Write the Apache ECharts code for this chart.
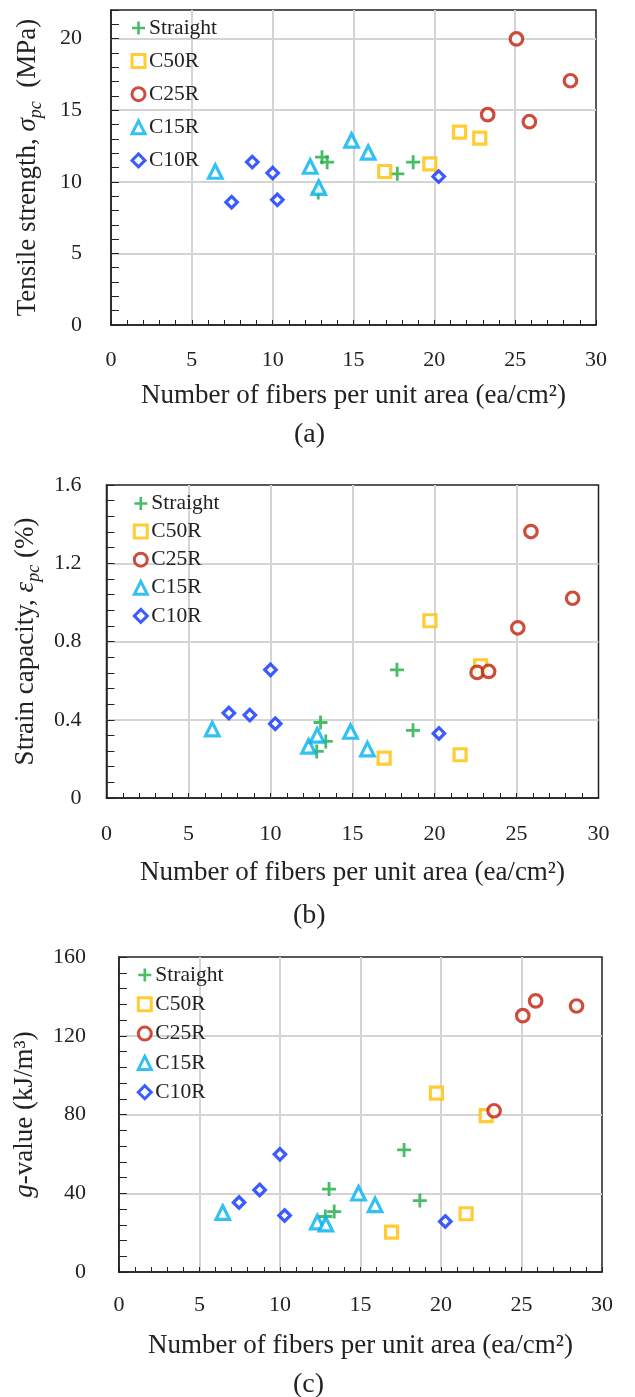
<!DOCTYPE html>
<html>
<head>
<meta charset="utf-8">
<script src="https://cdn.jsdelivr.net/npm/echarts@6/dist/echarts.min.js"></script>
<style>
  html, body { margin: 0; padding: 0; background: #fff; }
  #chart { width: 635px; height: 1397px; }
</style>
</head>
<body>
<div id="chart"></div>
<script>
// number of fibers per unit area (ea/cm2), same specimens in all three panels
const xStraight = [13.05, 13.37, 12.82, 17.71, 18.69]
const xC50R = [16.93, 19.72, 21.56, 22.81]
const xC25R = [22.6, 23.3, 25.08, 25.88, 28.42]
const xC15R = [6.45, 12.32, 12.85, 14.88, 15.91]
const xC10R = [7.46, 8.74, 10.0, 10.29, 20.27]

// (a) tensile strength (MPa)
const tsStraight = [11.72, 11.37, 9.25, 10.56, 11.37]
const tsC50R = [10.72, 11.26, 13.47, 13.05]
const tsC25R = [null, 14.69, 19.98, 14.2, 17.06]
const tsC15R = [10.72, 11.07, 9.6, 12.89, 12.05]
const tsC10R = [8.58, 11.38, 10.61, 8.74, 10.37]

// (b) strain capacity (%)
const scStraight = [0.386, 0.289, 0.238, 0.655, 0.346]
const scC50R = [0.204, 0.906, 0.221, 0.676]
const scC25R = [0.642, 0.647, 0.870, 1.362, 1.021]
const scC15R = [0.352, 0.264, 0.32, 0.34, 0.25]
const scC10R = [0.434, 0.424, 0.655, 0.38, 0.33]

// (c) g-value (kJ/m3)
const gvStraight = [42.1, 30.7, 28.2, 62.0, 36.3]
const gvC50R = [20.3, 90.9, 29.6, 79.4]
const gvC25R = [null, 81.9, 130.2, 137.7, 135.1]
const gvC15R = [30.2, 25.3, 24.3, 40.0, 34.1]
const gvC10R = [35.3, 41.7, 59.8, 28.7, 25.7]

const groupNames = ['Straight', 'C50R', 'C25R', 'C15R', 'C10R']
const xTicks = [0, 5, 10, 15, 20, 25, 30]

const FONT = 'Liberation Serif'
const INK = '#222'
const plusPath = 'path://M4,0H6V4H10V6H6V10H4V6H0V4H4Z'

// marker look per group
const markStyle = {
  Straight: { symbol: plusPath, size: 14, itemStyle: { color: '#1aab40' } },
  C50R: { symbol: 'rect', size: 12, itemStyle: { color: '#fff', borderColor: '#ffc000', borderWidth: 3.2 } },
  C25R: { symbol: 'circle', size: 12.5, itemStyle: { color: '#fff', borderColor: '#c0200c', borderWidth: 3.2 } },
  C15R: { symbol: 'triangle', size: 13.5, itemStyle: { color: '#fff', borderColor: '#00b0f0', borderWidth: 3.2 } },
  C10R: { symbol: 'diamond', size: 11.5, itemStyle: { color: '#fff', borderColor: '#0a32ff', borderWidth: 3.2 } }
}

const panels = [
  { x: [xStraight, xC50R, xC25R, xC15R, xC10R], y: [tsStraight, tsC50R, tsC25R, tsC15R, tsC10R], yAxisIndex: 0 },
  { x: [xStraight, xC50R, xC25R, xC15R, xC10R], y: [scStraight, scC50R, scC25R, scC15R, scC10R], yAxisIndex: 2 },
  { x: [xStraight, xC50R, xC25R, xC15R, xC10R], y: [gvStraight, gvC50R, gvC25R, gvC15R, gvC10R], yAxisIndex: 3 }
]

const grids = [
  { left: 111, top: 10, width: 485, height: 315 },
  { left: 106.5, top: 485, width: 492, height: 313 },
  { left: 116, top: 957, width: 486, height: 315 }
].map(g => Object.assign(g, { show: true, borderColor: INK, borderWidth: 1.5 }))

const splitStyle = { show: true, showMinLine: false, showMaxLine: false, lineStyle: { color: '#d4d4d4', width: 2 } }
const labelStyle = { fontFamily: FONT, fontSize: 22, color: INK }

function makeXAxis(gridIndex, margin, nameGap) {
  return {
    type: 'value', gridIndex, min: xTicks[0], max: xTicks[xTicks.length - 1], interval: xTicks[1] - xTicks[0],
    axisLine: { show: true, lineStyle: { color: INK, width: 1.5 } },
    axisTick: { show: true, inside: true, length: 5, lineStyle: { color: INK } },
    minorTick: { show: true, splitNumber: 5, length: 5, lineStyle: { color: INK } },
    splitLine: splitStyle,
    axisLabel: Object.assign({ margin }, labelStyle),
    name: 'Number of fibers per unit area (ea/cm²)',
    nameLocation: 'middle', nameGap,
    nameTextStyle: { fontFamily: FONT, fontSize: 27, color: INK, lineHeight: 30 }
  }
}

function yName(size) {
  return {
    fontFamily: FONT, fontSize: size, color: INK, lineHeight: 34,
    rich: {
      i: { fontFamily: FONT, fontSize: size, fontStyle: 'italic', color: INK, lineHeight: 34 },
      s: { fontFamily: FONT, fontSize: 18, fontStyle: 'italic', color: INK, lineHeight: 34, verticalAlign: 'bottom' }
    }
  }
}

const yAxes = [
  { // (a) labels and grid
    type: 'value', gridIndex: 0, position: 'left', min: 0, max: 22, interval: 5,
    axisLine: { show: true, lineStyle: { color: INK, width: 1.5 } },
    axisTick: { show: false },
    splitLine: splitStyle,
    axisLabel: Object.assign({ margin: 29, showMaxLabel: false }, labelStyle),
    name: 'Tensile strength, {i|σ}{s|pc}  (MPa)',
    nameLocation: 'middle', nameGap: 66, nameTextStyle: yName(27)
  },
  { // (a) ticks every 1 MPa
    type: 'value', gridIndex: 0, position: 'left', offset: 0, min: 0, max: 22, interval: 1,
    axisLine: { show: false }, axisLabel: { show: false }, splitLine: { show: false },
    axisTick: { show: true, inside: true, length: 8, lineStyle: { color: INK } }
  },
  { // (b)
    type: 'value', gridIndex: 1, position: 'left', min: 0, max: 1.6, interval: 0.4,
    axisLine: { show: true, lineStyle: { color: INK, width: 1.5 } },
    axisTick: { show: true, inside: true, length: 8, lineStyle: { color: INK } },
    minorTick: { show: true, splitNumber: 5, length: 8, lineStyle: { color: INK } },
    splitLine: splitStyle,
    axisLabel: Object.assign({ margin: 25, formatter: v => v === 0 ? '0' : v.toFixed(1) }, labelStyle),
    name: 'Strain capacity, {i|ε}{s|pc} (%)',
    nameLocation: 'middle', nameGap: 57, nameTextStyle: yName(27)
  },
  { // (c)
    type: 'value', gridIndex: 2, position: 'left', min: 0, max: 160, interval: 40,
    axisLine: { show: true, lineStyle: { color: INK, width: 1.5 } },
    axisTick: { show: true, inside: true, length: 8, lineStyle: { color: INK } },
    minorTick: { show: true, splitNumber: 5, length: 8, lineStyle: { color: INK } },
    splitLine: splitStyle,
    axisLabel: Object.assign({ margin: 33 }, labelStyle),
    name: '{i|g}-value (kJ/m³)',
    nameLocation: 'middle', nameGap: 64, nameTextStyle: yName(27)
  }
]

const series = []
panels.forEach((p, pi) => {
  groupNames.forEach((name, gi) => {
    const st = markStyle[name]
    series.push({
      type: 'scatter', name,
      xAxisIndex: pi, yAxisIndex: p.yAxisIndex,
      symbol: st.symbol, symbolSize: st.size,
      itemStyle: st.itemStyle,
      data: p.x[gi].map((xv, k) => [xv, p.y[gi][k]]).filter(d => d[1] != null),
      z: 3
    })
  })
})

function makeLegend(left, top, itemGap) {
  return {
    orient: 'vertical', left, top, padding: 0, itemGap,
    itemWidth: 13, itemHeight: 13, itemStyle: { borderWidth: 3 },
    data: groupNames,
    selectedMode: false,
    textStyle: { fontFamily: FONT, fontSize: 21.5, color: INK, lineHeight: 20, padding: [0, 0, 0, -1] }
  }
}

function panelTag(text, cx, cy) {
  return {
    type: 'text', left: cx - 17, top: cy - 16,
    style: { text, font: '28px "Liberation Serif"', fill: INK }
  }
}

const chart = echarts.init(document.getElementById('chart'))
chart.setOption({
  animation: false,
  backgroundColor: '#fff',
  grid: grids,
  xAxis: [makeXAxis(0, 24, 56), makeXAxis(1, 25, 60), makeXAxis(2, 22, 59)],
  yAxis: yAxes,
  legend: [makeLegend(130.5, 17, 11.1), makeLegend(132.8, 492.5, 6.1), makeLegend(136.8, 964, 7.3)],
  graphic: [panelTag('(a)', 311, 437), panelTag('(b)', 310, 918), panelTag('(c)', 310, 1387)],
  series
})
</script>
</body>
</html>
